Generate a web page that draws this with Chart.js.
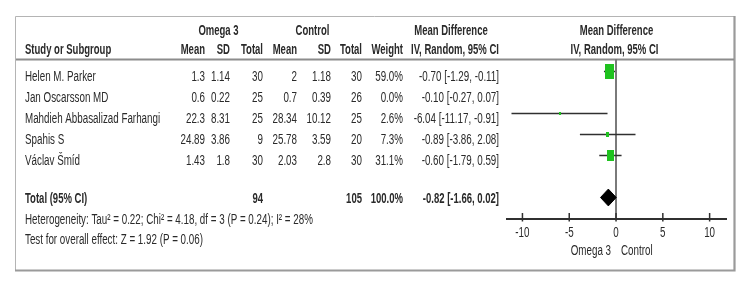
<!DOCTYPE html>
<html><head><meta charset="utf-8">
<script src="https://cdn.jsdelivr.net/npm/chart.js@4.4.1/dist/chart.umd.min.js"></script>
<style>html,body{margin:0;padding:0;background:#fff;}canvas{display:block;}</style>
</head><body>
<canvas id="c" width="750" height="301" style="width:750px;height:301px"></canvas>
<script>
// ---- data ----
const studies   = ['Helen M. Parker', 'Jan Oscarsson MD', 'Mahdieh Abbasalizad Farhangi', 'Spahis S', 'Václav Šmíd'];
const omegaMean = [1.3, 0.6, 22.3, 24.89, 1.43];
const omegaSD   = [1.14, 0.22, 8.31, 3.86, 1.8];
const omegaN    = [30, 25, 25, 9, 30];
const ctrlMean  = [2, 0.7, 28.34, 25.78, 2.03];
const ctrlSD    = [1.18, 0.39, 10.12, 3.59, 2.8];
const ctrlN     = [30, 26, 25, 20, 30];
const weights   = [59.0, 0.0, 2.6, 7.3, 31.1];
const md        = [-0.70, -0.10, -6.04, -0.89, -0.60];
const ciLow     = [-1.29, -0.27, -11.17, -3.86, -1.79];
const ciHigh    = [-0.11, 0.07, -0.91, 2.08, 0.59];
const totalLabel = 'Total (95% CI)';
const totalOmegaN = 94, totalCtrlN = 105, totalWeight = 100.0;
const totalMD = -0.82, totalLow = -1.66, totalHigh = 0.02;
const heterogeneity = 'Heterogeneity: Tau\u00B2 = 0.22; Chi\u00B2 = 4.18, df = 3 (P = 0.24); I\u00B2 = 28%';
const overallEffect = 'Test for overall effect: Z = 1.92 (P = 0.06)';
const groupLabels = ['Omega 3', 'Control'];
const xTickStep = 5;

// ---- helpers ----
const FONT = '"Liberation Sans", Arial, sans-serif';
const TXT = '#2a2a2a';
const rowOf = i => i + 1;
const totalRow = studies.length + 2;
const maxW = Math.max(...weights);
const ci = (m, l, h) => m.toFixed(2) + ' [' + l.toFixed(2) + ', ' + h.toFixed(2) + ']';

function txt(ctx, s, x, y, align, bold) {
  ctx.save();
  ctx.font = (bold ? 'bold ' : '') + '14px ' + FONT;
  ctx.fillStyle = TXT;
  ctx.textBaseline = 'alphabetic';
  ctx.textAlign = align;
  ctx.translate(x, y);
  ctx.scale(bold ? 0.68 : 0.70, 1);
  ctx.fillText(s, 0, 0);
  ctx.restore();
}

const markerCache = {};
function marker(w) {
  if (markerCache[w]) return markerCache[w];
  const k = Math.sqrt(w / maxW);
  const c = document.createElement('canvas');
  c.width = Math.max(2, Math.round(9 * k));
  c.height = Math.max(2, Math.round(15 * k));
  const g = c.getContext('2d');
  g.fillStyle = '#1fc21f';
  g.fillRect(0, 0, c.width, c.height);
  markerCache[w] = c;
  return c;
}

// ---- datasets ----
const datasets = [];
datasets.push({
  label: 'studies',
  data: md.map((m, i) => ({x: m, y: rowOf(i)})),
  pointStyle: ctx => marker(weights[ctx.dataIndex] || 1),
  pointRadius: ctx => weights[ctx.dataIndex] > 0 ? 5 : 0,
  showLine: false
});
const DH = 0.4;
datasets.push({
  label: 'total',
  data: [
    {x: totalLow, y: totalRow}, {x: totalMD, y: totalRow - DH},
    {x: totalHigh, y: totalRow}, {x: totalMD, y: totalRow + DH},
    {x: totalLow, y: totalRow}
  ],
  showLine: true, fill: 'shape', tension: 0,
  backgroundColor: '#000', borderColor: '#000', borderWidth: 1,
  pointRadius: 0
});
md.forEach((m, i) => {
  if (!(weights[i] > 0)) return;
  datasets.push({
    label: 'ci' + i,
    data: [{x: ciLow[i], y: rowOf(i)}, {x: ciHigh[i], y: rowOf(i)}],
    showLine: true, borderColor: '#303030', borderWidth: 1.5,
    pointRadius: 0, tension: 0
  });
});

// ---- plugin for table text / frame ----
const forestPlugin = {
  id: 'forest',
  beforeDraw(chart) {
    const ctx = chart.ctx;
    ctx.save();
    ctx.fillStyle = '#fff';
    ctx.fillRect(0, 0, chart.width, chart.height);
    ctx.strokeStyle = '#b4b4b4';
    ctx.lineWidth = 1;
    ctx.beginPath();
    ctx.moveTo(15.5, 270); ctx.lineTo(15.5, 16.5); ctx.lineTo(734, 16.5);
    ctx.stroke();
    ctx.strokeStyle = '#9a9a9a';
    ctx.lineWidth = 2.2;
    ctx.beginPath();
    ctx.moveTo(734.5, 16); ctx.lineTo(734.5, 270.5); ctx.lineTo(15, 270.5);
    ctx.stroke();
    ctx.strokeStyle = '#8c8c8c';
    ctx.lineWidth = 2;
    ctx.beginPath();
    ctx.moveTo(16, 59.5); ctx.lineTo(734, 59.5);
    ctx.stroke();
    ctx.restore();
  },
  afterDraw(chart) {
    const ctx = chart.ctx;
    const xs = chart.scales.x, ys = chart.scales.y;
    const cols = {om: 205, osd: 230, on: 263, cm: 297, csd: 331, cn: 362, w: 403, ci: 499};
    const xMid = (chart.chartArea.left + chart.chartArea.right) / 2;
    // headers
    txt(ctx, groupLabels[0], 218.5, 35, 'center', true);
    txt(ctx, groupLabels[1], 312.5, 35, 'center', true);
    txt(ctx, 'Mean Difference', 451, 35, 'center', true);
    txt(ctx, 'Mean Difference', xMid, 35, 'center', true);
    txt(ctx, 'Study or Subgroup', 25, 54, 'left', true);
    txt(ctx, 'Mean', cols.om, 54, 'right', true);
    txt(ctx, 'SD', cols.osd, 54, 'right', true);
    txt(ctx, 'Total', cols.on, 54, 'right', true);
    txt(ctx, 'Mean', cols.cm, 54, 'right', true);
    txt(ctx, 'SD', cols.csd, 54, 'right', true);
    txt(ctx, 'Total', cols.cn, 54, 'right', true);
    txt(ctx, 'Weight', cols.w, 54, 'right', true);
    txt(ctx, 'IV, Random, 95% CI', cols.ci, 54, 'right', true);
    txt(ctx, 'IV, Random, 95% CI', xMid - 2, 54, 'center', true);
    // study rows
    studies.forEach((s, i) => {
      const y = ys.getPixelForValue(rowOf(i)) + 9.5;
      txt(ctx, s, 25, y, 'left', false);
      txt(ctx, String(omegaMean[i]), cols.om, y, 'right', false);
      txt(ctx, String(omegaSD[i]), cols.osd, y, 'right', false);
      txt(ctx, String(omegaN[i]), cols.on, y, 'right', false);
      txt(ctx, String(ctrlMean[i]), cols.cm, y, 'right', false);
      txt(ctx, String(ctrlSD[i]), cols.csd, y, 'right', false);
      txt(ctx, String(ctrlN[i]), cols.cn, y, 'right', false);
      txt(ctx, weights[i].toFixed(1) + '%', cols.w, y, 'right', false);
      txt(ctx, ci(md[i], ciLow[i], ciHigh[i]), cols.ci, y, 'right', false);
    });
    // total row
    const ty = ys.getPixelForValue(totalRow) + 6;
    txt(ctx, totalLabel, 25, ty, 'left', true);
    txt(ctx, String(totalOmegaN), cols.on, ty, 'right', true);
    txt(ctx, String(totalCtrlN), cols.cn, ty, 'right', true);
    txt(ctx, totalWeight.toFixed(1) + '%', cols.w, ty, 'right', true);
    txt(ctx, ci(totalMD, totalLow, totalHigh), cols.ci, ty, 'right', true);
    txt(ctx, heterogeneity, 25, 224, 'left', false);
    txt(ctx, overallEffect, 25, 244, 'left', false);
    // axis ticks & labels
    ctx.save();
    ctx.strokeStyle = '#303030';
    ctx.lineWidth = 1.5;
    xs.ticks.forEach(t => {
      const px = xs.getPixelForValue(t.value);
      ctx.beginPath();
      ctx.moveTo(px, xs.top - 6);
      ctx.lineTo(px, xs.top + 2.5);
      ctx.stroke();
      txt(ctx, t.label, px, xs.top + 18, 'center', false);
    });
    ctx.restore();
    const zx = xs.getPixelForValue(0);
    txt(ctx, groupLabels[0], zx - 5, xs.top + 36, 'right', false);
    txt(ctx, groupLabels[1], zx + 5, xs.top + 36, 'left', false);
  }
};

new Chart(document.getElementById('c'), {
  type: 'scatter',
  data: {datasets},
  options: {
    responsive: false,
    devicePixelRatio: 1,
    animation: false,
    events: [],
    layout: {padding: {left: 507, right: 24, top: 59, bottom: 0}},
    plugins: {legend: {display: false}, tooltip: {enabled: false}},
    scales: {
      x: {
        type: 'linear', min: -11.65, max: 11.75,
        afterFit(s) { s.height = 82; },
        ticks: {display: false, stepSize: xTickStep, includeBounds: false},
        grid: {
          drawTicks: false, drawOnChartArea: true,
          color: c => (c.tick && c.tick.value === 0) ? '#7a7a7a' : 'rgba(0,0,0,0)',
          lineWidth: 2
        },
        border: {display: true, color: '#303030', width: 2}
      },
      y: {
        type: 'linear', display: false, reverse: true,
        min: 0.405, max: totalRow + 1.024
      }
    }
  },
  plugins: [forestPlugin]
});
</script>
</body></html>
